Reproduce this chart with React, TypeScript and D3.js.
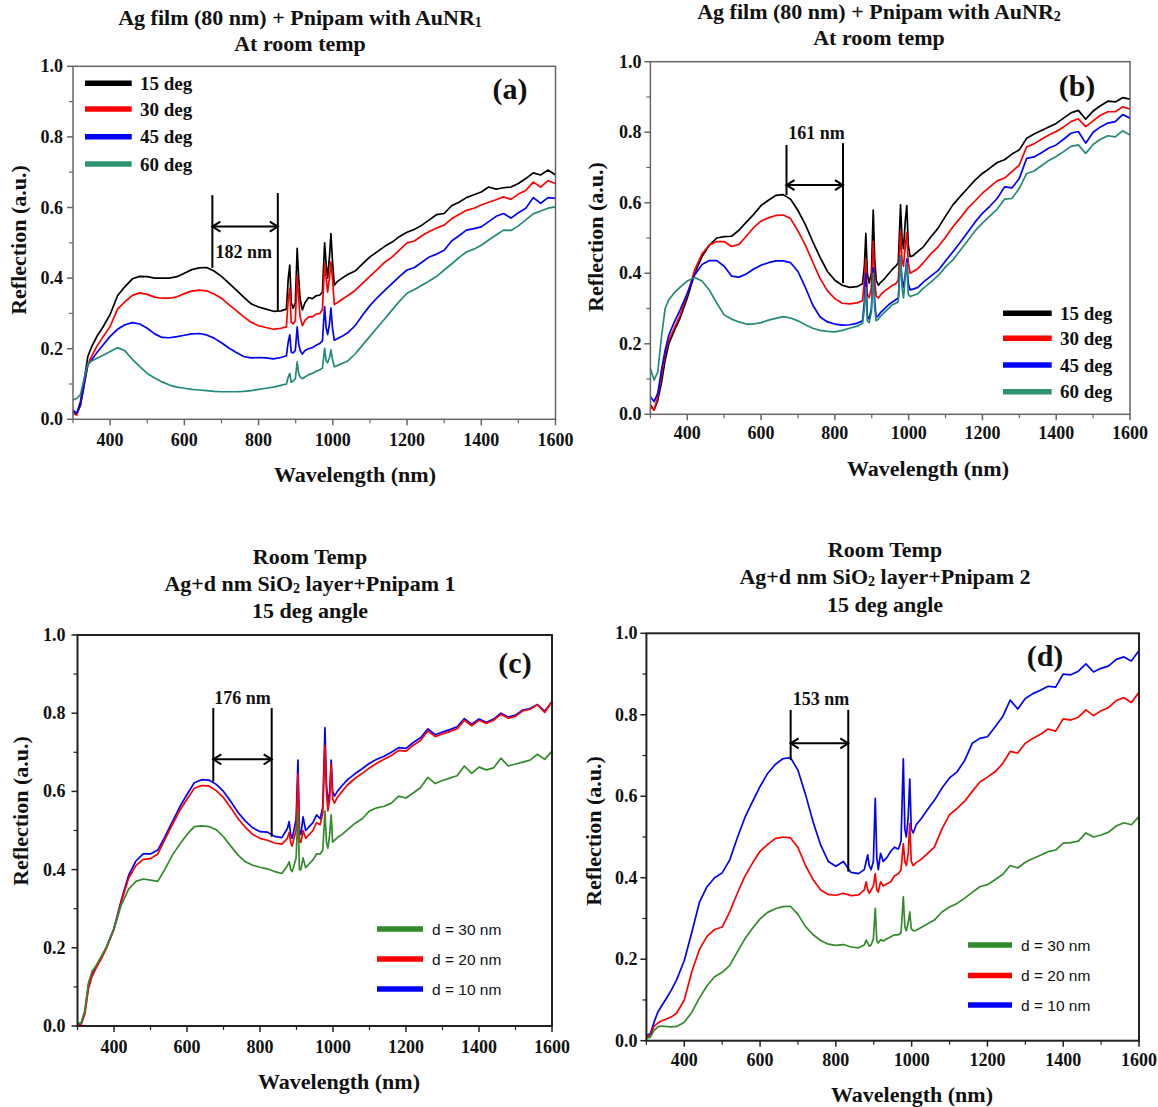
import React from 'react';
import * as d3 from 'd3';

// Wavelength grid (nm)
const WL = [
  300, 310, 320, 330, 340, 350, 365, 380, 400, 420,
  440, 460, 480, 500, 520, 540, 560, 580, 600, 620,
  640, 660, 680, 700, 720, 740, 760, 780, 800, 820,
  840, 860, 875, 880, 884, 888, 893, 899, 904, 908,
  912, 918, 925, 935, 945, 955, 965, 972, 978, 982,
  986, 991, 995, 999, 1004, 1012, 1025, 1040, 1060, 1080,
  1100, 1120, 1140, 1160, 1180, 1200, 1220, 1240, 1260, 1280,
  1300, 1320, 1340, 1360, 1380, 1400, 1420, 1440, 1460, 1480,
  1500, 1520, 1540, 1560, 1580, 1600,
];

// Panel (a)
const A15 = [
  0.022, 0.015, 0.05, 0.11, 0.178, 0.205, 0.236, 0.26, 0.297, 0.35,
  0.376, 0.398, 0.405, 0.404, 0.40, 0.40, 0.40, 0.404, 0.414, 0.424,
  0.429, 0.43, 0.42, 0.405, 0.386, 0.366, 0.346, 0.327, 0.318, 0.312,
  0.306, 0.307, 0.312, 0.40, 0.437, 0.33, 0.315, 0.33, 0.484, 0.40,
  0.34, 0.31, 0.33, 0.345, 0.342, 0.35, 0.352, 0.36, 0.50, 0.44,
  0.40, 0.46, 0.526, 0.45, 0.38, 0.39, 0.40, 0.41, 0.42, 0.44,
  0.46, 0.475, 0.49, 0.502, 0.518, 0.53, 0.538, 0.55, 0.565, 0.58,
  0.583, 0.605, 0.615, 0.628, 0.636, 0.644, 0.658, 0.652, 0.656, 0.658,
  0.668, 0.682, 0.698, 0.692, 0.706, 0.692,
];
const A30 = [
  0.017, 0.012, 0.04, 0.095, 0.155, 0.178, 0.208, 0.232, 0.263, 0.312,
  0.333, 0.351, 0.358, 0.354, 0.346, 0.343, 0.343, 0.347, 0.356, 0.363,
  0.366, 0.364, 0.355, 0.343, 0.325, 0.308, 0.29, 0.275, 0.265, 0.26,
  0.255, 0.258, 0.262, 0.34, 0.371, 0.275, 0.27, 0.28, 0.408, 0.34,
  0.29, 0.265, 0.28, 0.29, 0.29, 0.298, 0.30, 0.31, 0.441, 0.40,
  0.36, 0.40, 0.446, 0.40, 0.325, 0.33, 0.34, 0.35, 0.365, 0.385,
  0.405, 0.425, 0.445, 0.46, 0.48, 0.50, 0.505, 0.52, 0.532, 0.542,
  0.55, 0.568, 0.58, 0.592, 0.598, 0.607, 0.615, 0.622, 0.63, 0.623,
  0.638, 0.648, 0.672, 0.658, 0.676, 0.668,
];
const A45 = [
  0.026, 0.017, 0.04, 0.10, 0.155, 0.168, 0.19, 0.209, 0.235, 0.255,
  0.268, 0.274, 0.27, 0.258, 0.242, 0.232, 0.231, 0.234, 0.238, 0.242,
  0.243, 0.239, 0.23, 0.217, 0.202, 0.189, 0.178, 0.174, 0.175, 0.174,
  0.171, 0.175, 0.18, 0.22, 0.239, 0.19, 0.188, 0.195, 0.262, 0.215,
  0.195, 0.185, 0.195, 0.20, 0.203, 0.21, 0.215, 0.222, 0.319, 0.26,
  0.24, 0.27, 0.315, 0.26, 0.224, 0.228, 0.235, 0.245, 0.265, 0.295,
  0.322, 0.345, 0.365, 0.385, 0.405, 0.423, 0.43, 0.445, 0.46, 0.468,
  0.479, 0.505, 0.52, 0.536, 0.54, 0.545, 0.56, 0.575, 0.583, 0.57,
  0.585, 0.598, 0.628, 0.612, 0.628, 0.626,
];
const A60 = [
  0.055, 0.059, 0.07, 0.115, 0.158, 0.165, 0.173, 0.181, 0.192, 0.203,
  0.194, 0.17, 0.149, 0.13, 0.117, 0.106, 0.097, 0.091, 0.088, 0.085,
  0.083, 0.081, 0.079, 0.078, 0.078, 0.078, 0.079, 0.081, 0.085, 0.088,
  0.091, 0.096, 0.10, 0.12, 0.13, 0.105, 0.108, 0.115, 0.163, 0.13,
  0.12, 0.115, 0.12, 0.126, 0.13, 0.136, 0.14, 0.145, 0.201, 0.165,
  0.16, 0.175, 0.197, 0.17, 0.149, 0.152, 0.158, 0.165, 0.185, 0.21,
  0.235, 0.26, 0.285, 0.31, 0.335, 0.357, 0.368, 0.38, 0.392, 0.405,
  0.423, 0.44, 0.458, 0.474, 0.482, 0.493, 0.508, 0.522, 0.536, 0.535,
  0.548, 0.565, 0.582, 0.59, 0.598, 0.602,
];

// Panel (b)
const B15 = [
  0.026, 0.012, 0.04, 0.09, 0.154, 0.2, 0.238, 0.272, 0.33, 0.40,
  0.448, 0.48, 0.5, 0.504, 0.505, 0.522, 0.545, 0.567, 0.592, 0.607,
  0.621, 0.623, 0.61, 0.578, 0.538, 0.49, 0.445, 0.405, 0.38, 0.366,
  0.36, 0.362, 0.37, 0.42, 0.513, 0.40, 0.372, 0.40, 0.579, 0.44,
  0.38, 0.366, 0.375, 0.385, 0.398, 0.41, 0.42, 0.43, 0.594, 0.50,
  0.47, 0.55, 0.592, 0.48, 0.447, 0.45, 0.462, 0.475, 0.503, 0.528,
  0.562, 0.594, 0.618, 0.641, 0.664, 0.683, 0.698, 0.714, 0.722, 0.738,
  0.75, 0.783, 0.795, 0.805, 0.815, 0.825, 0.84, 0.855, 0.862, 0.837,
  0.86, 0.875, 0.888, 0.886, 0.898, 0.894,
];
const B30 = [
  0.022, 0.012, 0.05, 0.11, 0.173, 0.21, 0.245, 0.28, 0.34, 0.41,
  0.455, 0.48, 0.49, 0.49, 0.476, 0.482, 0.505, 0.53, 0.548, 0.557,
  0.564, 0.565, 0.555, 0.52, 0.48, 0.432, 0.385, 0.35, 0.328, 0.315,
  0.313, 0.316, 0.322, 0.38, 0.44, 0.34, 0.33, 0.36, 0.49, 0.38,
  0.335, 0.33, 0.34, 0.35, 0.357, 0.365, 0.37, 0.38, 0.52, 0.44,
  0.42, 0.48, 0.515, 0.43, 0.40, 0.405, 0.413, 0.43, 0.455, 0.475,
  0.502, 0.532, 0.557, 0.584, 0.605, 0.627, 0.645, 0.662, 0.67, 0.688,
  0.707, 0.759, 0.767, 0.78, 0.792, 0.802, 0.815, 0.83, 0.838, 0.816,
  0.832, 0.848, 0.858, 0.858, 0.872, 0.866,
];
const B45 = [
  0.05, 0.036, 0.06, 0.125, 0.182, 0.225, 0.262, 0.295, 0.343, 0.395,
  0.425, 0.436, 0.436, 0.42, 0.392, 0.389, 0.398, 0.412, 0.423, 0.43,
  0.435, 0.435, 0.43, 0.405, 0.36, 0.31, 0.276, 0.262, 0.256, 0.253,
  0.254, 0.258, 0.265, 0.32, 0.40, 0.28, 0.27, 0.30, 0.415, 0.32,
  0.275, 0.28, 0.29, 0.30, 0.31, 0.318, 0.325, 0.33, 0.445, 0.38,
  0.36, 0.40, 0.44, 0.37, 0.353, 0.355, 0.36, 0.375, 0.392, 0.408,
  0.435, 0.461, 0.488, 0.516, 0.545, 0.57, 0.59, 0.612, 0.645, 0.642,
  0.669, 0.726, 0.73, 0.742, 0.755, 0.764, 0.78, 0.797, 0.802, 0.769,
  0.80, 0.815, 0.826, 0.83, 0.85, 0.84,
];
const B60 = [
  0.13, 0.097, 0.12, 0.22, 0.30, 0.325, 0.345, 0.36, 0.378, 0.388,
  0.378, 0.352, 0.315, 0.282, 0.27, 0.262, 0.256, 0.256, 0.26, 0.267,
  0.272, 0.277, 0.273, 0.265, 0.254, 0.244, 0.238, 0.235, 0.234, 0.238,
  0.244, 0.25, 0.258, 0.30, 0.36, 0.265, 0.26, 0.29, 0.40, 0.30,
  0.265, 0.27, 0.28, 0.29, 0.30, 0.31, 0.315, 0.32, 0.45, 0.36,
  0.33, 0.39, 0.43, 0.34, 0.334, 0.337, 0.342, 0.358, 0.375, 0.393,
  0.418, 0.438, 0.465, 0.492, 0.52, 0.542, 0.562, 0.582, 0.61, 0.612,
  0.641, 0.683, 0.69, 0.705, 0.72, 0.731, 0.745, 0.76, 0.764, 0.74,
  0.765, 0.78, 0.79, 0.787, 0.804, 0.792,
];

// Panel (c)
const C10 = [
  0.007, 0.007, 0.035, 0.105, 0.133, 0.15, 0.174, 0.203, 0.25, 0.322,
  0.385, 0.422, 0.44, 0.44, 0.45, 0.485, 0.523, 0.56, 0.592, 0.622,
  0.63, 0.629, 0.618, 0.6, 0.574, 0.546, 0.524, 0.507, 0.497, 0.496,
  0.485, 0.482, 0.505, 0.523, 0.49, 0.48, 0.50, 0.53, 0.68, 0.50,
  0.49, 0.535, 0.50, 0.51, 0.52, 0.54, 0.53, 0.56, 0.763, 0.62,
  0.57, 0.60, 0.68, 0.60, 0.588, 0.60, 0.615, 0.63, 0.645, 0.658,
  0.672, 0.682, 0.69, 0.70, 0.712, 0.71, 0.725, 0.737, 0.76, 0.745,
  0.752, 0.758, 0.765, 0.786, 0.772, 0.785, 0.777, 0.785, 0.80, 0.79,
  0.795, 0.808, 0.812, 0.822, 0.805, 0.83,
];
const C20 = [
  0.004, 0.004, 0.03, 0.095, 0.127, 0.146, 0.172, 0.2, 0.247, 0.318,
  0.378, 0.41, 0.426, 0.428, 0.44, 0.478, 0.515, 0.551, 0.58, 0.608,
  0.615, 0.614, 0.602, 0.584, 0.558, 0.53, 0.508, 0.49, 0.48, 0.475,
  0.468, 0.465, 0.48, 0.495, 0.47, 0.46, 0.48, 0.50, 0.645, 0.47,
  0.47, 0.50, 0.48, 0.49, 0.50, 0.52, 0.515, 0.545, 0.717, 0.60,
  0.55, 0.58, 0.67, 0.58, 0.57, 0.585, 0.60, 0.617, 0.633, 0.646,
  0.66, 0.672, 0.682, 0.692, 0.705, 0.703, 0.718, 0.73, 0.755, 0.74,
  0.747, 0.753, 0.76, 0.782, 0.768, 0.782, 0.774, 0.782, 0.797, 0.787,
  0.792, 0.806, 0.81, 0.822, 0.802, 0.83,
];
const C30 = [
  0.007, 0.007, 0.04, 0.11, 0.14, 0.153, 0.178, 0.203, 0.248, 0.31,
  0.35, 0.37, 0.376, 0.373, 0.37, 0.402, 0.437, 0.465, 0.49, 0.51,
  0.512, 0.51, 0.502, 0.484, 0.46, 0.437, 0.42, 0.411, 0.406, 0.402,
  0.395, 0.39, 0.41, 0.42, 0.40, 0.395, 0.41, 0.43, 0.55, 0.40,
  0.40, 0.43, 0.405, 0.415, 0.425, 0.44, 0.44, 0.45, 0.55, 0.47,
  0.455, 0.49, 0.54, 0.47, 0.475, 0.482, 0.49, 0.502, 0.518, 0.53,
  0.55, 0.558, 0.562, 0.57, 0.588, 0.583, 0.596, 0.61, 0.636, 0.62,
  0.628, 0.634, 0.64, 0.665, 0.646, 0.662, 0.655, 0.66, 0.685, 0.665,
  0.67, 0.675, 0.68, 0.695, 0.682, 0.703,
];

// Panel (d)
const D10 = [
  0.014, 0.016, 0.045, 0.07, 0.085, 0.1, 0.123, 0.15, 0.197, 0.267,
  0.34, 0.378, 0.4, 0.412, 0.444, 0.498, 0.548, 0.587, 0.624, 0.656,
  0.678, 0.692, 0.695, 0.664, 0.604, 0.537, 0.48, 0.44, 0.428, 0.44,
  0.413, 0.41, 0.42, 0.44, 0.456, 0.43, 0.42, 0.44, 0.595, 0.45,
  0.42, 0.46, 0.44, 0.45, 0.465, 0.475, 0.47, 0.49, 0.692, 0.52,
  0.50, 0.55, 0.642, 0.52, 0.51, 0.53, 0.545, 0.565, 0.59, 0.62,
  0.645, 0.66, 0.688, 0.73, 0.742, 0.746, 0.77, 0.795, 0.836, 0.814,
  0.84, 0.852, 0.86, 0.87, 0.868, 0.9, 0.898, 0.907, 0.925, 0.905,
  0.914, 0.92, 0.936, 0.942, 0.932, 0.958,
];
const D20 = [
  0.01, 0.012, 0.035, 0.043, 0.049, 0.052, 0.058, 0.068, 0.1, 0.17,
  0.224, 0.256, 0.273, 0.279, 0.317, 0.362, 0.404, 0.436, 0.465, 0.482,
  0.496, 0.5, 0.498, 0.474, 0.43, 0.395, 0.37, 0.359, 0.357, 0.362,
  0.356, 0.358, 0.37, 0.39, 0.37, 0.362, 0.37, 0.38, 0.41, 0.37,
  0.365, 0.39, 0.38, 0.385, 0.39, 0.405, 0.41, 0.42, 0.484, 0.44,
  0.43, 0.46, 0.533, 0.44, 0.43, 0.437, 0.445, 0.458, 0.475, 0.52,
  0.555, 0.57, 0.588, 0.612, 0.635, 0.647, 0.66, 0.68, 0.71, 0.706,
  0.73, 0.742, 0.752, 0.765, 0.76, 0.79, 0.787, 0.794, 0.812, 0.798,
  0.81, 0.818, 0.835, 0.842, 0.83, 0.855,
];
const D30 = [
  0.006, 0.008, 0.025, 0.034, 0.036, 0.035, 0.034, 0.035, 0.045, 0.07,
  0.105, 0.135, 0.157, 0.168, 0.185, 0.218, 0.25, 0.276, 0.299, 0.315,
  0.324, 0.329, 0.33, 0.31, 0.28, 0.26, 0.246, 0.237, 0.234, 0.236,
  0.23, 0.228, 0.235, 0.247, 0.24, 0.232, 0.235, 0.25, 0.325, 0.245,
  0.24, 0.248, 0.245, 0.25, 0.255, 0.26, 0.26, 0.265, 0.353, 0.28,
  0.27, 0.29, 0.316, 0.275, 0.27, 0.271, 0.278, 0.286, 0.296, 0.316,
  0.328, 0.337, 0.35, 0.364, 0.378, 0.383, 0.395, 0.408, 0.43, 0.424,
  0.438, 0.447, 0.455, 0.464, 0.468, 0.485, 0.486, 0.49, 0.51, 0.5,
  0.505, 0.512, 0.527, 0.535, 0.53, 0.55,
];

const X_TICKS = [400, 600, 800, 1000, 1200, 1400, 1600];
const X_MINOR = [300, 500, 700, 900, 1100, 1300, 1500];
const Y_TICKS = [0, 0.2, 0.4, 0.6, 0.8, 1.0];
const Y_MINOR = [0.1, 0.3, 0.5, 0.7, 0.9];

const ANGLE_NAMES = ['15 deg', '30 deg', '45 deg', '60 deg'];
const THICK_NAMES = ['d = 30 nm', 'd = 20 nm', 'd = 10 nm'];

const SERIF = '"Liberation Serif","Times New Roman",Times,serif';
const SANS = '"Liberation Sans",Arial,Helvetica,sans-serif';

const BLACK = '#000000';
const RED = '#ff0000';
const BLUE = '#0000ff';
const TEAL = '#23897a';
const TEAL_LEG = '#2e9470';
const GREEN = '#338a2a';

type Seg = { t: string; sub?: boolean };
type Series = { values: number[]; color: string };
type Panel = {
  x0: number; x1: number; yT: number; yB: number;
  frame: string; fw: number;
  titleX: number; titleYs: number[]; title: Seg[][];
  series: Series[];
  legend: { names: string[]; colors: string[]; lx0: number; lx1: number; tx: number; ys: number[]; font: string; size: number; weight: string };
  tag: { t: string; x: number; y: number };
  xlab: { x: number; y: number };
  ylab: { x: number; y: number };
  tickLabelDy: number;
  yLabelGap: number;
  ann: { l: number; lt: number; lb: number; r: number; rt: number; rb: number; ay: number; text: string; tx: number; ty: number };
};

const PANELS: Panel[] = [
  {
    x0: 73, x1: 555.5, yT: 66.3, yB: 419.3, frame: '#666', fw: 1.5,
    titleX: 300, titleYs: [17, 43],
    title: [[{ t: 'Ag film (80 nm) + Pnipam with AuNR' }, { t: '1', sub: true }], [{ t: 'At room temp' }]],
    series: [
      { values: A15, color: BLACK }, { values: A30, color: RED },
      { values: A45, color: BLUE }, { values: A60, color: TEAL },
    ],
    legend: { names: ANGLE_NAMES, colors: [BLACK, RED, BLUE, TEAL_LEG], lx0: 85, lx1: 131.7, tx: 140, ys: [83.3, 109, 136.7, 164], font: SERIF, size: 19, weight: 'bold' },
    tag: { t: '(a)', x: 510, y: 88 },
    xlab: { x: 355, y: 474 }, ylab: { x: 18, y: 240 },
    tickLabelDy: 21, yLabelGap: 10,
    ann: { l: 675.5, lt: 0.635, lb: 0.429, r: 851.8, rt: 0.641, rb: 0.305, ay: 0.546, text: '182 nm', tx: 760, ty: 0.475 },
  },
  {
    x0: 650.4, x1: 1130, yT: 61.7, yB: 414.3, frame: '#666', fw: 1.5,
    titleX: 879, titleYs: [11, 37],
    title: [[{ t: 'Ag film (80 nm) + Pnipam with AuNR' }, { t: '2', sub: true }], [{ t: 'At room temp' }]],
    series: [
      { values: B15, color: BLACK }, { values: B30, color: RED },
      { values: B45, color: BLUE }, { values: B60, color: TEAL },
    ],
    legend: { names: ANGLE_NAMES, colors: [BLACK, RED, BLUE, TEAL_LEG], lx0: 1003, lx1: 1051.7, tx: 1060, ys: [313.3, 338.3, 365, 391.7], font: SERIF, size: 19, weight: 'bold' },
    tag: { t: '(b)', x: 1077, y: 85 },
    xlab: { x: 928, y: 468 }, ylab: { x: 595, y: 237 },
    tickLabelDy: 19, yLabelGap: 9,
    ann: { l: 668.9, lt: 0.764, lb: 0.622, r: 822, rt: 0.769, rb: 0.372, ay: 0.65, text: '161 nm', tx: 750, ty: 0.797 },
  },
  {
    x0: 77.5, x1: 552, yT: 635, yB: 1026, frame: '#222', fw: 2,
    titleX: 310, titleYs: [556, 583, 610],
    title: [[{ t: 'Room Temp' }], [{ t: 'Ag+d nm SiO' }, { t: '2', sub: true }, { t: ' layer+Pnipam 1' }], [{ t: '15 deg angle' }]],
    series: [
      { values: C10, color: BLUE }, { values: C20, color: RED }, { values: C30, color: GREEN },
    ],
    legend: { names: THICK_NAMES, colors: [GREEN, RED, BLUE], lx0: 377, lx1: 423, tx: 432, ys: [929, 959, 989], font: SANS, size: 15.5, weight: 'normal' },
    tag: { t: '(c)', x: 515, y: 662 },
    xlab: { x: 339, y: 1081.5 }, ylab: { x: 20, y: 811 },
    tickLabelDy: 21, yLabelGap: 12,
    ann: { l: 672, lt: 0.813, lb: 0.625, r: 832, rt: 0.813, rb: 0.484, ay: 0.682, text: '176 nm', tx: 752, ty: 0.839 },
  },
  {
    x0: 646.4, x1: 1139, yT: 633.3, yB: 1040.7, frame: '#222', fw: 2,
    titleX: 885, titleYs: [548.5, 576, 604],
    title: [[{ t: 'Room Temp' }], [{ t: 'Ag+d nm SiO' }, { t: '2', sub: true }, { t: ' layer+Pnipam 2' }], [{ t: '15 deg angle' }]],
    series: [
      { values: D10, color: BLUE }, { values: D20, color: RED }, { values: D30, color: GREEN },
    ],
    legend: { names: THICK_NAMES, colors: [GREEN, RED, BLUE], lx0: 968, lx1: 1012, tx: 1021, ys: [945, 975.5, 1005], font: SANS, size: 15.5, weight: 'normal' },
    tag: { t: '(d)', x: 1045, y: 655 },
    xlab: { x: 912, y: 1094 }, ylab: { x: 593, y: 831 },
    tickLabelDy: 19, yLabelGap: 9,
    ann: { l: 680.7, lt: 0.812, lb: 0.689, r: 832.7, rt: 0.812, rb: 0.415, ay: 0.73, text: '153 nm', tx: 760.7, ty: 0.839 },
  },
];

function TitleLine({ segs, x, y }: { segs: Seg[]; x: number; y: number }) {
  let shifted = false;
  return (
    <text x={x} y={y} textAnchor="middle" dominantBaseline="central" fontFamily={SERIF} fontWeight="bold" fontSize={22} fill="#111">
      {segs.map((s, i) => {
        if (s.sub) {
          shifted = true;
          return <tspan key={i} dy={5} fontSize={14}>{s.t}</tspan>;
        }
        const dy = shifted ? -5 : undefined;
        shifted = false;
        return <tspan key={i} dy={dy}>{s.t}</tspan>;
      })}
    </text>
  );
}

function PanelView({ p }: { p: Panel }) {
  const x = d3.scaleLinear().domain([300, 1600]).range([p.x0, p.x1]);
  const y = d3.scaleLinear().domain([0, 1]).range([p.yB, p.yT]);
  const line = d3.line<number>().x((_, i) => x(WL[i])).y((d) => y(d));
  const a = p.ann;
  const ah = 8, aw = 5;
  return (
    <g>
      {p.title.map((segs, i) => (
        <TitleLine key={i} segs={segs} x={p.titleX} y={p.titleYs[i]} />
      ))}
      {p.series.map((s, i) => (
        <path key={i} d={line(s.values) || ''} fill="none" stroke={s.color} strokeWidth={1.7} strokeLinejoin="round" />
      ))}
      <rect x={p.x0} y={p.yT} width={p.x1 - p.x0} height={p.yB - p.yT} fill="none" stroke={p.frame} strokeWidth={p.fw} />
      {X_TICKS.map((t) => (
        <g key={'xt' + t}>
          <line x1={x(t)} x2={x(t)} y1={p.yB} y2={p.yB + 6} stroke={p.frame} strokeWidth={1.5} />
          <text x={x(t)} y={p.yB + p.tickLabelDy} textAnchor="middle" dominantBaseline="central" fontFamily={SERIF} fontWeight="bold" fontSize={18} fill="#111">{t}</text>
        </g>
      ))}
      {X_MINOR.map((t) => (
        <line key={'xm' + t} x1={x(t)} x2={x(t)} y1={p.yB} y2={p.yB + 4} stroke={p.frame} strokeWidth={1.2} />
      ))}
      {Y_TICKS.map((t) => (
        <g key={'yt' + t}>
          <line x1={p.x0 - 6} x2={p.x0} y1={y(t)} y2={y(t)} stroke={p.frame} strokeWidth={1.5} />
          <text x={p.x0 - p.yLabelGap} y={y(t)} textAnchor="end" dominantBaseline="central" fontFamily={SERIF} fontWeight="bold" fontSize={18} fill="#111">{t.toFixed(1)}</text>
        </g>
      ))}
      {Y_MINOR.map((t) => (
        <line key={'ym' + t} x1={p.x0 - 4} x2={p.x0} y1={y(t)} y2={y(t)} stroke={p.frame} strokeWidth={1.2} />
      ))}
      <text x={p.xlab.x} y={p.xlab.y} textAnchor="middle" dominantBaseline="central" fontFamily={SERIF} fontWeight="bold" fontSize={22} fill="#111">Wavelength (nm)</text>
      <text transform={`translate(${p.ylab.x},${p.ylab.y}) rotate(-90)`} textAnchor="middle" dominantBaseline="central" fontFamily={SERIF} fontWeight="bold" fontSize={22} fill="#111">Reflection (a.u.)</text>
      <text x={p.tag.x} y={p.tag.y} textAnchor="middle" dominantBaseline="central" fontFamily={SERIF} fontWeight="bold" fontSize={30} fill="#111">{p.tag.t}</text>
      {p.legend.names.map((n, i) => (
        <g key={'lg' + i}>
          <line x1={p.legend.lx0} x2={p.legend.lx1} y1={p.legend.ys[i]} y2={p.legend.ys[i]} stroke={p.legend.colors[i]} strokeWidth={5.5} />
          <text x={p.legend.tx} y={p.legend.ys[i]} dominantBaseline="central" fontFamily={p.legend.font} fontWeight={p.legend.weight} fontSize={p.legend.size} fill="#111">{n}</text>
        </g>
      ))}
      <g stroke="#000" strokeWidth={2} fill="none">
        <line x1={x(a.l)} x2={x(a.l)} y1={y(a.lt)} y2={y(a.lb)} />
        <line x1={x(a.r)} x2={x(a.r)} y1={y(a.rt)} y2={y(a.rb)} />
        <line x1={x(a.l)} x2={x(a.r)} y1={y(a.ay)} y2={y(a.ay)} />
        <path d={`M${x(a.l) + ah},${y(a.ay) - aw}L${x(a.l)},${y(a.ay)}L${x(a.l) + ah},${y(a.ay) + aw}`} />
        <path d={`M${x(a.r) - ah},${y(a.ay) - aw}L${x(a.r)},${y(a.ay)}L${x(a.r) - ah},${y(a.ay) + aw}`} />
      </g>
      <text x={x(a.tx)} y={y(a.ty)} textAnchor="middle" dominantBaseline="central" fontFamily={SERIF} fontWeight="bold" fontSize={18} fill="#111">{a.text}</text>
    </g>
  );
}

export default function App() {
  return (
    <svg width={1158} height={1107} viewBox="0 0 1158 1107" style={{ position: 'absolute', left: 0, top: 0, background: '#fff' }}>
      <rect x={0} y={0} width={1158} height={1107} fill="#fff" />
      {PANELS.map((p, i) => (
        <PanelView key={i} p={p} />
      ))}
    </svg>
  );
}
